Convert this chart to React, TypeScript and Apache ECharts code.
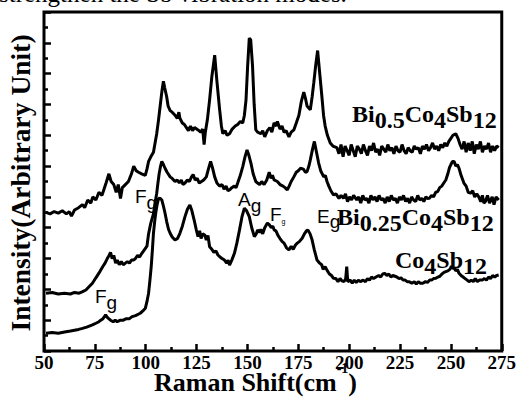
import React, { useEffect, useRef } from "react";
import * as echarts from "echarts";

const SERIF = "'Liberation Serif', 'Times New Roman', serif";
const SANS = "'Liberation Sans', Arial, sans-serif";

const xTicks = { min: 50, max: 275, interval: 25 };
const yRange = { min: 0, max: 22, interval: 2 };

const seriesNames = ["Bi0.5Co4Sb12", "Bi0.25Co4Sb12", "Co4Sb12"];

const bi05Spectrum: [number, number][] = [
  [51, 9.0], [53, 8.9], [55, 9.05], [57, 8.95], [59, 9.1], [61, 8.9], [62.4, 9.05], [63.5, 8.75], [65, 9.15], [67, 9.3],
  [68.9, 9.5], [70, 9.3], [71.5, 9.8], [73, 9.6], [74, 10.0], [75.5, 9.8], [77, 10.3], [78.5, 10.1], [79.5, 10.5], [80.5, 10.9],
  [81.9, 11.5], [83, 11.0], [84.3, 10.8], [85.5, 10.3], [86.5, 10.8], [87.6, 9.9], [88.5, 10.6], [90, 10.8], [91.5, 11.0], [93, 11.5],
  [94.1, 12.0], [95.3, 11.7], [96.5, 11.6], [98, 11.5], [99.8, 11.4], [100.6, 11.8], [101.4, 12.3], [102.5, 12.6], [103.8, 12.9], [104.6, 13.5],
  [105.4, 14.1], [106.3, 15.0], [107.1, 15.9], [108, 16.9], [108.7, 17.5], [109.3, 17.1], [110.3, 16.5], [111, 15.9], [112, 15.6], [113, 15.5],
  [114.4, 15.3], [115.5, 15.1], [116.3, 15.5], [116.8, 15.1], [118, 14.8], [119, 14.7], [120, 14.5], [121, 14.3], [122, 14.6], [123, 14.3],
  [124, 14.5], [125.7, 14.35], [127, 14.2], [128, 14.4], [128.7, 13.4], [129.3, 14.2], [130.3, 15.0], [131.4, 16.3], [132.5, 17.8], [133.9, 19.2],
  [135, 17.5], [136.3, 15.7], [137.2, 14.6], [137.9, 14.1], [139, 14.3], [140, 14.0], [141.2, 14.1], [142.5, 14.4], [144, 14.6], [145.2, 14.7],
  [146.5, 14.9], [147.7, 14.8], [148.5, 15.3], [149.3, 16.3], [150.1, 18.5], [150.9, 20.3], [151.6, 20.2], [152.5, 18.5], [153.3, 16.0], [154.1, 14.35],
  [155, 14.2], [156.6, 14.1], [157.5, 14.3], [158.5, 13.9], [159.8, 14.3], [161, 14.5], [162, 14.2], [163.1, 14.8], [164.2, 14.6], [164.7, 14.9],
  [166, 14.4], [167, 14.6], [168, 14.2], [169, 14.3], [170.4, 13.9], [171.5, 14.2], [172.8, 14.35], [174, 14.8], [175.3, 15.3], [176.5, 16.2],
  [177.7, 16.8], [178.5, 16.4], [179.3, 15.9], [180.9, 15.65], [181.8, 16.5], [182.6, 17.4], [183.6, 18.6], [184.5, 19.5], [185.4, 18.2], [186.6, 16.5],
  [187.4, 15.3], [188.2, 14.6], [189.3, 14.0], [190.7, 13.5], [192, 13.3], [193.9, 13.2], [195, 12.8], [196, 13.4], [197, 12.6], [198, 13.3],
  [199, 13.0], [200, 12.7], [201, 13.4], [202, 13.0], [203, 12.6], [204, 13.3], [205, 13.1], [206, 12.8], [207, 13.4], [208, 13.0],
  [209, 12.7], [210, 13.3], [211, 13.0], [212, 13.5], [213, 12.9], [214, 13.1], [215, 12.7], [216, 13.3], [217, 13.1], [218, 12.9],
  [219, 13.4], [220, 13.0], [221, 13.2], [222, 12.8], [223, 13.3], [224, 13.0], [225, 12.9], [226, 13.4], [227, 13.0], [228, 12.8],
  [229, 13.2], [230, 13.0], [231, 12.9], [232, 13.3], [233, 13.1], [234, 13.2], [235, 12.8], [236, 13.3], [237, 13.1], [238, 13.4],
  [239, 13.0], [240, 13.2], [241, 13.5], [242, 13.1], [243, 13.3], [244, 13.0], [245, 13.4], [246, 13.2], [247, 13.5], [248, 13.3],
  [249, 13.6], [250, 13.8], [251, 14.0], [252.4, 14.1], [253.5, 13.8], [254.5, 13.4], [255.5, 13.1], [256.5, 13.6], [257.5, 12.9], [258.5, 13.5],
  [259.5, 13.0], [260.5, 13.6], [261.5, 12.8], [262.5, 13.4], [263.5, 13.1], [264.5, 13.6], [265.5, 12.9], [266.5, 13.3], [267.5, 13.1], [268.5, 13.5],
  [269.5, 12.9], [270.5, 13.3], [271.5, 13.0], [272.5, 13.3], [273.5, 13.2],
];

const bi025Spectrum: [number, number][] = [
  [51, 3.75], [54, 3.8], [57, 3.7], [60, 3.75], [63, 3.7], [65, 3.8], [67.3, 3.75], [69, 3.85], [70.6, 3.96], [72, 4.15],
  [73.8, 4.4], [75.5, 4.75], [77, 5.05], [77.9, 5.26], [79, 5.5], [80, 5.7], [81.1, 6.0], [82, 6.2], [82.7, 6.4], [83.5, 6.0],
  [84.3, 6.2], [85.2, 5.7], [86, 5.9], [87, 5.6], [88, 5.8], [89, 5.6], [90, 5.7], [91, 5.8], [92, 5.7], [93, 5.9],
  [94, 5.9], [94.9, 6.0], [96, 6.2], [97, 6.1], [98.1, 6.34], [99.5, 6.6], [100.6, 6.8], [101.4, 7.6], [102.5, 8.3], [103.8, 8.9],
  [104.6, 9.6], [105.4, 10.24], [106, 10.9], [106.6, 11.5], [107.3, 12.0], [107.9, 12.3], [108.7, 12.1], [109.5, 11.86], [110.5, 11.6], [111, 11.5],
  [112, 11.3], [113, 11.2], [114.4, 11.0], [115.5, 11.1], [116.5, 10.9], [117.5, 11.1], [118.3, 10.8], [119.3, 10.9], [120.5, 11.1], [121.5, 11.0],
  [122.5, 11.3], [123.3, 11.45], [124.3, 11.1], [125.3, 11.2], [126.3, 10.9], [127.4, 11.0], [128.5, 11.1], [129.8, 11.3], [130.8, 11.8], [131.9, 12.3],
  [132.8, 11.9], [133.9, 11.3], [135, 10.9], [136.3, 10.7], [137.5, 10.8], [138.5, 10.5], [139.5, 10.7], [140.4, 10.4], [141.2, 10.45], [142.3, 10.6],
  [143.5, 10.7], [144.4, 10.6], [145.2, 10.9], [146.5, 11.4], [147.7, 11.97], [148.8, 12.6], [149.8, 13.05], [150.7, 12.7], [151.7, 12.2], [152.8, 11.5],
  [154.1, 11.0], [155, 10.9], [156, 10.8], [157, 11.0], [158.2, 10.8], [159.5, 11.1], [160.7, 11.6], [161.6, 11.2], [162.3, 11.4], [163.1, 11.1],
  [164.7, 11.0], [166, 10.8], [167.5, 10.7], [168.5, 10.6], [169.6, 10.45], [170.5, 10.7], [171.5, 11.0], [172.8, 11.3], [174, 11.6], [175, 11.7],
  [176.1, 11.86], [177.5, 11.8], [178.5, 11.6], [179.3, 11.64], [180.2, 12.0], [180.9, 12.4], [182, 13.1], [182.9, 13.6], [183.8, 13.0], [185, 12.2],
  [186, 11.7], [187.5, 11.3], [188.3, 11.4], [189.1, 11.0], [190, 10.7], [191, 10.4], [192.3, 10.13], [193.5, 10.2], [195, 9.9], [196, 10.1],
  [197.2, 9.91], [198.2, 10.2], [199.2, 9.7], [200.2, 10.0], [201.2, 9.8], [202.2, 10.1], [203.7, 9.8], [204.7, 10.0], [205.7, 9.6], [206.7, 10.1],
  [207.7, 9.8], [208.7, 9.9], [209.7, 9.6], [210.7, 10.1], [211.7, 9.8], [212.7, 10.0], [213.7, 9.7], [214.7, 10.1], [215.7, 9.8], [216.7, 9.9],
  [217.7, 9.6], [218.7, 10.0], [219.7, 9.7], [220.7, 10.1], [221.7, 9.8], [222.7, 9.9], [223.7, 9.6], [224.7, 10.0], [225.7, 9.8], [226.7, 10.1],
  [227.7, 9.7], [228.7, 9.9], [229.7, 9.6], [230.7, 10.0], [231.7, 9.8], [232.7, 9.7], [233.7, 10.1], [234.7, 9.8], [235.7, 9.9], [236.7, 9.7],
  [237.7, 10.0], [238.5, 9.9], [239.4, 9.91], [240.5, 10.1], [241.5, 10.0], [242.5, 10.3], [243.5, 10.34], [244.5, 10.6], [245.5, 10.7], [246.5, 10.9],
  [247.5, 11.1], [248.5, 11.5], [249.3, 11.9], [250, 12.1], [250.8, 12.3], [251.6, 12.3], [252.4, 12.0], [253.2, 12.1], [254, 11.86], [255, 11.4],
  [256.4, 10.9], [257.5, 10.7], [258.5, 10.3], [259.7, 10.24], [260.7, 10.4], [261.7, 10.0], [262.7, 10.2], [263.7, 10.0], [264.7, 9.7], [265.5, 10.1],
  [266.2, 9.6], [267, 9.7], [268, 10.1], [269, 9.6], [270.3, 10.0], [271.2, 9.5], [272.2, 10.0], [273.5, 9.8],
];

const co4Spectrum: [number, number][] = [
  [51, 1.15], [54, 1.2], [57, 1.15], [60.8, 1.25], [63, 1.3], [65, 1.35], [67, 1.4], [68.9, 1.47], [71, 1.55], [73.8, 1.69],
  [75.5, 1.8], [77, 1.9], [77.9, 2.0], [79, 2.1], [80.3, 2.34], [81, 2.2], [81.8, 2.1], [82.7, 2.0], [84, 1.9], [85, 2.0],
  [86, 1.9], [87.6, 2.0], [89, 2.0], [90.5, 2.1], [92, 2.1], [93.3, 2.23], [95, 2.3], [97.3, 2.45], [98.6, 2.6], [99.8, 2.77],
  [100.6, 3.2], [101.4, 3.75], [102, 4.5], [102.7, 5.47], [103.3, 6.6], [103.8, 7.64], [104.4, 8.4], [104.9, 8.94], [105.6, 9.5], [106.3, 9.91],
  [107.1, 9.9], [107.9, 9.8], [108.7, 9.4], [109.5, 8.94], [110.3, 8.4], [111.2, 7.9], [112, 7.64], [113, 7.4], [114.4, 7.2], [115.6, 7.3],
  [116.8, 7.64], [118, 8.1], [119.3, 8.72], [120.5, 9.2], [121.7, 9.48], [122.7, 9.1], [123.8, 8.5], [124.8, 7.9], [125.7, 7.42], [126.5, 7.8],
  [127.2, 7.3], [128, 7.6], [129, 7.53], [129.8, 7.2], [130.6, 7.5], [131.4, 6.77], [132.5, 6.6], [133.5, 6.4], [134.5, 6.5], [135.5, 6.23],
  [136.5, 6.1], [137.5, 6.0], [138.7, 5.9], [139.8, 5.7], [140.5, 5.9], [141.2, 5.58], [142.3, 5.9], [143.6, 6.34], [144.8, 7.0], [146.1, 7.86],
  [147.3, 8.7], [148.5, 9.27], [149.6, 9.1], [150.9, 8.72], [152.1, 8.0], [153.4, 7.42], [154.3, 7.6], [155, 7.86], [156, 7.7], [156.6, 7.9],
  [157.5, 7.6], [158.5, 8.0], [159.8, 8.3], [160.7, 8.2], [161.7, 8.0], [162.5, 8.1], [163.1, 7.86], [164, 7.8], [165, 7.5], [166, 7.3],
  [167.1, 7.1], [168, 7.0], [169.2, 6.7], [170.4, 6.56], [171.5, 6.8], [172.5, 6.6], [173.6, 6.88], [174.5, 7.0], [175.5, 7.1], [176.9, 7.32],
  [178, 7.6], [179, 7.8], [179.7, 7.86], [180.8, 7.6], [181.8, 7.2], [182.8, 6.6], [184.2, 5.9], [185.5, 5.7], [186.5, 5.6], [187.2, 5.3],
  [188.2, 5.47], [189.3, 5.2], [190.3, 5.0], [191.3, 4.9], [192.3, 4.72], [193.5, 4.7], [194.5, 4.5], [195.5, 4.7], [196.5, 4.55], [197.5, 4.5],
  [198.3, 4.7], [198.8, 5.47], [199.3, 4.5], [200.5, 4.6], [201.5, 4.4], [202.5, 4.6], [203.5, 4.45], [204.5, 4.6], [205.5, 4.5], [206.9, 4.6],
  [208, 4.5], [209, 4.7], [210, 4.6], [211, 4.8], [212, 4.7], [213.4, 4.82], [214.5, 4.9], [215.5, 4.8], [216.5, 5.0], [217.5, 5.04],
  [218.5, 4.9], [219.5, 5.0], [220.5, 4.8], [221.5, 4.9], [223.2, 4.82], [224.5, 4.7], [225.5, 4.75], [226.5, 4.6], [227.5, 4.6], [228.5, 4.5],
  [229.6, 4.5], [230.8, 4.4], [232, 4.5], [233, 4.35], [234, 4.5], [235, 4.4], [236.2, 4.4], [237.5, 4.5], [238.5, 4.45], [239.5, 4.6],
  [240.5, 4.6], [241.5, 4.7], [242.6, 4.72], [243.6, 4.8], [244.6, 4.85], [245.6, 5.0], [246.6, 5.1], [247.5, 5.15], [248.5, 5.2], [249.5, 5.3],
  [250.3, 5.5], [250.8, 5.37], [251.6, 5.4], [252.4, 5.2], [253.2, 5.3], [254, 5.04], [255, 4.9], [256, 4.8], [257, 4.7], [258, 4.6],
  [258.9, 4.5], [260, 4.6], [261, 4.5], [262, 4.7], [263, 4.5], [264, 4.6], [265.4, 4.6], [266.5, 4.7], [267.5, 4.6], [268.5, 4.8],
  [269.5, 4.7], [270.5, 4.9], [271.5, 4.8], [272.5, 4.9], [273.5, 4.93],
];

const spectra = [bi05Spectrum, bi025Spectrum, co4Spectrum];

function chemRich(parts: [string, string][]) {
  return parts.map(([a, b]) => `{b|${a}}{s|${b}}`).join("");
}

function chemLabel(x: number, y: number, parts: [string, string][]) {
  return {
    type: "text",
    x,
    y,
    z: 10,
    style: {
      text: chemRich(parts),
      fill: "#000",
      verticalAlign: "top",
      rich: {
        b: { fontFamily: SERIF, fontWeight: "bold", fontSize: 24, verticalAlign: "top", lineHeight: 30 },
        s: { fontFamily: SERIF, fontWeight: "bold", fontSize: 24, verticalAlign: "bottom" },
      },
    },
  };
}

function modeLabel(x: number, y: number, main: string, sub: string, subSize: number, lh: number) {
  return {
    type: "text",
    x,
    y,
    z: 10,
    style: {
      text: `{m|${main}}{s|${sub}}`,
      fill: "#000",
      verticalAlign: "top",
      rich: {
        m: { fontFamily: SANS, fontSize: 19, verticalAlign: "top", lineHeight: lh },
        s: { fontFamily: SANS, fontSize: subSize, verticalAlign: "bottom" },
      },
    },
  };
}

export default function App() {
  const ref = useRef<HTMLDivElement>(null);
  useEffect(() => {
    if (!ref.current) return;
    const chart = echarts.init(ref.current, undefined, { renderer: "svg" });
    const tick = { inside: true, length: 7, lineStyle: { color: "#000", width: 2.5 } };
    const minor = { show: true, splitNumber: 2, length: 4, lineStyle: { color: "#000", width: 2.5 } };
    chart.setOption({
      animation: false,
      backgroundColor: "#fff",
      grid: {
        left: 44,
        top: 12,
        width: 462,
        height: 339,
        show: true,
        borderColor: "#000",
        borderWidth: 3,
        backgroundColor: "transparent",
      },
      xAxis: {
        type: "value",
        min: xTicks.min,
        max: xTicks.max,
        interval: xTicks.interval,
        axisLine: { show: false },
        splitLine: { show: false },
        axisTick: tick,
        minorTick: minor,
        axisLabel: { color: "#000", fontFamily: SERIF, fontWeight: "bold", fontSize: 19, margin: 2 },
      },
      yAxis: {
        type: "value",
        min: yRange.min,
        max: yRange.max,
        interval: yRange.interval,
        axisLine: { show: false },
        splitLine: { show: false },
        axisTick: tick,
        minorTick: minor,
        axisLabel: { show: false },
      },
      series: spectra.map((d, i) => ({
        name: seriesNames[i],
        type: "line",
        data: d,
        showSymbol: false,
        symbol: "none",
        lineStyle: { color: "#000", width: 3 },
        z: 3,
      })),
      graphic: [
        {
          type: "text",
          x: -1,
          y: 5.5,
          style: { text: "strengthen the Sb vibration modes.", fontFamily: SERIF, fontSize: 25, fill: "#000", verticalAlign: "bottom" },
        },
        {
          type: "text",
          x: 20,
          y: 183,
          rotation: Math.PI / 2,
          style: {
            text: "Intensity(Arbitrary Unit)",
            fontFamily: SERIF,
            fontWeight: "bold",
            fontSize: 27.5,
            fill: "#000",
            align: "center",
            verticalAlign: "middle",
          },
        },
        {
          type: "text",
          x: 154,
          y: 361,
          style: {
            text: "{m|Raman Shift(cm}{s|-1}{m|)}",
            fill: "#000",
            verticalAlign: "top",
            rich: {
              m: { fontFamily: SERIF, fontWeight: "bold", fontSize: 26, verticalAlign: "bottom", lineHeight: 34 },
              s: { fontFamily: SERIF, fontWeight: "bold", fontSize: 14, verticalAlign: "top" },
            },
          },
        },
        chemLabel(352, 102, [["Bi", "0.5"], ["Co", "4"], ["Sb", "12"]]),
        chemLabel(337, 205, [["Bi", "0.25"], ["Co", "4"], ["Sb", "12"]]),
        chemLabel(395, 248, [["Co", "4"], ["Sb", "12"]]),
        modeLabel(135, 187, "F", "g", 19, 25),
        modeLabel(95, 287, "F", "g", 19, 25),
        modeLabel(238, 190, "A", "g", 19, 25),
        modeLabel(270, 205, "F", "g", 7, 20),
        modeLabel(317, 207, "E", "g", 19, 24),
      ],
    });
    return () => chart.dispose();
  }, []);
  return (
    <div
      ref={ref}
      style={{ position: "fixed", left: 0, top: 0, width: 519, height: 401, background: "#fff" }}
    />
  );
}
